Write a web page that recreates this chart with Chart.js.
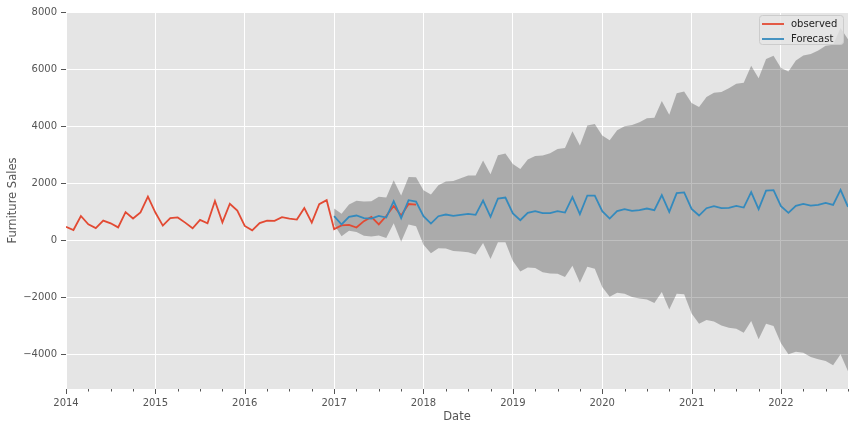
<!DOCTYPE html>
<html>
<head>
<meta charset="utf-8">
<script src="https://cdn.jsdelivr.net/npm/chart.js@4.4.0/dist/chart.umd.min.js"></script>
<style>
  body { margin: 0; background: #fff; }
</style>
</head>
<body>
<canvas id="myChart" width="856" height="432"></canvas>
<script>
/* Data section: months counted from Jan 2014 */
var firstYear = 2014;
var obsStart = 0;      // 2014-01
var fcStart = 36;      // 2017-01
var lastMonth = 105;   // 2022-10

var observed = [480, 368, 857, 567, 432, 695, 601, 458, 992, 769, 980, 1532,
                978, 522, 781, 806, 625, 429, 720, 602, 1383, 633, 1287, 1049,
                509, 357, 610, 695, 687, 817, 769, 734, 1136, 625, 1271, 1411,
                398, 528, 545, 453, 678, 826, 563, 858, 1210, 875, 1278, 1256];

var forecast = [850, 560, 828, 874, 780, 770, 863, 804, 1375, 780, 1410, 1364,
                850, 594, 850, 909, 863, 898, 933, 898, 1399, 828, 1469, 1504,
                950, 710, 968, 1026, 956, 956, 1026, 979, 1515, 921, 1574, 1574,
                1026, 769, 1026, 1096, 1038, 1061, 1119, 1061, 1586, 1003, 1656, 1685,
                1108, 874, 1131, 1201, 1131, 1143, 1213, 1154, 1690, 1096, 1748, 1760,
                1201, 968, 1213, 1283, 1224, 1248, 1318, 1248, 1772, 1178];

var upper = [1119, 933, 1259, 1388, 1364, 1376, 1528, 1504, 2109, 1574, 2227, 2214,
             1760, 1609, 1935, 2063, 2087, 2180, 2273, 2273, 2798, 2320, 2984, 3050,
             2680, 2507, 2832, 2962, 2973, 3054, 3206, 3241, 3822, 3322, 4022, 4081,
             3672, 3508, 3858, 3997, 4046, 4137, 4277, 4301, 4885, 4406, 5151, 5215,
             4815, 4675, 5024, 5175, 5199, 5327, 5490, 5525, 6120, 5676, 6354, 6469,
             6039, 5921, 6306, 6480, 6529, 6655, 6819, 6854, 7438, 7050];

var lower = [560, 152, 338, 300, 170, 140, 175, 90, 600, -40, 560, 500,
             -150, -450, -270, -280, -370, -390, -410, -490, -90, -650, -60, -60,
             -720, -1084, -944, -967, -1108, -1154, -1166, -1282, -886, -1481, -921, -991,
             -1632, -1969, -1830, -1865, -1981, -2028, -2063, -2191, -1807, -2413, -1865, -1880,
             -2560, -2914, -2786, -2833, -2973, -3054, -3089, -3229, -2821, -3462, -2914, -2996,
             -3602, -3987, -3893, -3928, -4080, -4161, -4220, -4371, -3987, -4580];

var yearLabels = ['2014', '2015', '2016', '2017', '2018', '2019', '2020', '2021', '2022'];
var yTicks = [-4000, -2000, 0, 2000, 4000, 6000, 8000];

function toPoints(values, start) {
    return values.map(function (v, i) { return { x: start + i, y: v }; });
}

/* Plugins */
var plotBackground = {
    id: 'plotBackground',
    beforeDraw: function (chart) {
        var a = chart.chartArea, c = chart.ctx;
        c.save();
        c.fillStyle = '#E5E5E5';
        c.fillRect(a.left, a.top, a.right - a.left, a.bottom - a.top);
        c.restore();
    }
};

// quarterly minor ticks and yearly major ticks on the date axis
var dateTicks = {
    id: 'dateTicks',
    afterDraw: function (chart) {
        var x = chart.scales.x, c = chart.ctx, bottom = chart.chartArea.bottom;
        c.save();
        c.strokeStyle = '#555555';
        c.lineWidth = 1;
        for (var m = 0; m <= lastMonth; m += 3) {
            var px = Math.round(x.getPixelForValue(m)) + 0.5;
            var len = (m % 12 === 0) ? 5 : 2.5;
            c.beginPath();
            c.moveTo(px, bottom);
            c.lineTo(px, bottom + len);
            c.stroke();
        }
        c.restore();
    }
};

var legendBox = {
    id: 'legendBox',
    afterDraw: function (chart) {
        var c = chart.ctx;
        var bx = 759.5, by = 15.5, bw = 84, bh = 29;
        c.save();
        c.beginPath();
        c.roundRect(bx, by, bw, bh, 3);
        c.fillStyle = 'rgba(229,229,229,0.8)';
        c.fill();
        c.strokeStyle = '#CCCCCC';
        c.lineWidth = 1;
        c.stroke();
        var items = [['observed', '#E24A33'], ['Forecast', '#348ABD']];
        c.font = '10px "DejaVu Sans"';
        c.textBaseline = 'middle';
        items.forEach(function (it, i) {
            var yy = 24 + i * 15;
            c.strokeStyle = it[1];
            c.lineWidth = 1.8;
            c.beginPath();
            c.moveTo(762, yy);
            c.lineTo(784, yy);
            c.stroke();
            c.fillStyle = '#222222';
            c.fillText(it[0], 791, yy + 0.5);
        });
        c.restore();
    }
};

/* Chart section */
var ctx = document.getElementById('myChart').getContext('2d');
var myChart = new Chart(ctx, {
    type: 'line',
    data: {
        datasets: [{
            label: 'Forecast',
            data: toPoints(forecast, fcStart),
            borderColor: '#348ABD',
            borderWidth: 1.8,
            order: 0
        }, {
            label: 'observed',
            data: toPoints(observed, obsStart),
            borderColor: '#E24A33',
            borderWidth: 1.8,
            order: 1
        }, {
            label: 'lower',
            data: toPoints(lower, fcStart),
            borderWidth: 0,
            borderColor: 'rgba(0,0,0,0)',
            fill: false,
            order: 3
        }, {
            label: 'upper',
            data: toPoints(upper, fcStart),
            borderWidth: 0,
            borderColor: 'rgba(0,0,0,0)',
            backgroundColor: 'rgba(0,0,0,0.25)',
            fill: '-1',
            order: 2
        }]
    },
    options: {
        responsive: false,
        animation: false,
        layout: { padding: { top: 12, right: 8, left: 0, bottom: 0 } },
        elements: {
            point: { radius: 0 },
            line: { tension: 0 }
        },
        plugins: {
            legend: { display: false },
            tooltip: { enabled: false }
        },
        scales: {
            x: {
                type: 'linear',
                min: 0,
                max: lastMonth,
                afterBuildTicks: function (scale) {
                    scale.ticks = yearLabels.map(function (l, i) { return { value: i * 12 }; });
                },
                afterFit: function (scale) { scale.height = 43; },
                ticks: {
                    autoSkip: false,
                    maxRotation: 0,
                    padding: 8,
                    color: '#555555',
                    font: { family: 'DejaVu Sans', size: 10 },
                    callback: function (v) { return yearLabels[Math.round(v / 12)]; }
                },
                grid: { color: '#FFFFFF', lineWidth: 1, drawTicks: false },
                border: { display: false },
                title: {
                    display: true,
                    text: 'Date',
                    color: '#555555',
                    padding: { top: 2, bottom: 8 },
                    font: { family: 'DejaVu Sans', size: 11.5 }
                }
            },
            y: {
                min: -5200,
                max: 8000,
                afterBuildTicks: function (scale) {
                    scale.ticks = yTicks.map(function (v) { return { value: v }; });
                },
                afterFit: function (scale) { scale.width = 66; },
                ticks: {
                    padding: 4,
                    color: '#555555',
                    font: { family: 'DejaVu Sans', size: 10 },
                    callback: function (v) { return v < 0 ? '\u2212' + Math.abs(v) : String(v); }
                },
                grid: { color: '#FFFFFF', lineWidth: 1, tickLength: 5, tickColor: '#555555' },
                border: { display: false },
                title: {
                    display: true,
                    text: 'Furniture Sales',
                    color: '#555555',
                    padding: { top: 6, bottom: 2 },
                    font: { family: 'DejaVu Sans', size: 11.5 }
                }
            }
        }
    },
    plugins: [plotBackground, dateTicks, legendBox]
});
</script>
</body>
</html>
